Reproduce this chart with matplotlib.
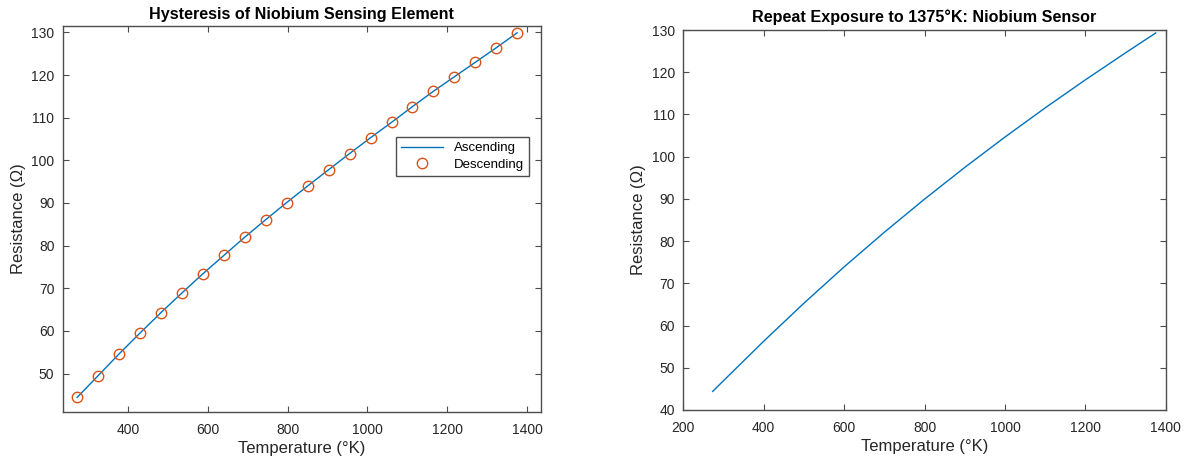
import matplotlib
matplotlib.use("Agg")
import matplotlib.pyplot as plt

# Left: hysteresis data
temp_K = [273, 325.5, 378, 430.5, 483, 535.5, 588, 640.5, 693, 745.5, 798,
          850.5, 903, 955.5, 1008, 1060.5, 1113, 1165.5, 1218, 1270.5, 1323, 1375]
ascending_ohm = [44.4, 49.5, 54.6, 59.5, 64.3, 68.9, 73.4, 77.7, 82.0, 86.1, 90.1,
                 94.0, 97.8, 101.6, 105.3, 108.9, 112.6, 116.2, 119.6, 123.0, 126.4, 129.9]
descending_ohm = [44.4, 49.5, 54.6, 59.5, 64.3, 68.9, 73.4, 77.7, 82.0, 86.1, 90.1,
                  94.0, 97.8, 101.6, 105.3, 108.9, 112.6, 116.2, 119.6, 123.0, 126.4, 129.9]

# Right: repeat exposure curve
repeat_temp_K = [273, 300, 400, 500, 600, 700, 800, 900, 1000, 1100, 1200, 1300, 1375]
repeat_ohm = [44.4, 46.95, 56.3, 65.3, 73.9, 82.1, 89.95, 97.45, 104.65, 111.55, 118.2, 124.6, 129.3]

x_ticks_left = [400, 600, 800, 1000, 1200, 1400]
y_ticks_left = [50, 60, 70, 80, 90, 100, 110, 120, 130]
x_ticks_right = [200, 400, 600, 800, 1000, 1200, 1400]
y_ticks_right = [40, 50, 60, 70, 80, 90, 100, 110, 120, 130]

plt.rcParams['font.family'] = ['Liberation Sans', 'DejaVu Sans']
BLUE = '#0072BD'
ORANGE = '#D95319'
AX = '#4d4d4d'
TXT = '#262626'

fig = plt.figure(figsize=(11.88, 4.63), dpi=100)
ax1 = fig.add_axes([0.0528, 0.1102, 0.4023, 0.8337])
ax2 = fig.add_axes([0.5752, 0.1145, 0.4061, 0.8207])

def style(ax):
    for s in ax.spines.values():
        s.set_color(AX)
        s.set_linewidth(1.0)
    ax.tick_params(direction='in', length=4, width=0.8, colors=AX,
                   labelcolor=TXT, labelsize=10, top=True, right=True)
    ax.tick_params(axis='x', pad=8)
    ax.tick_params(axis='y', pad=6)

ax1.plot(temp_K, ascending_ohm, color=BLUE, lw=1.0, label='Ascending')
ax1.plot(temp_K, descending_ohm, linestyle='none', marker='o', ms=7.5,
         mfc='none', mec=ORANGE, mew=1.0, label='Descending')
ax1.set_xlim(237, 1434)
ax1.set_ylim(41.0, 131.5)
ax1.set_xticks(x_ticks_left)
ax1.set_yticks(y_ticks_left)
style(ax1)
ax1.set_title('Hysteresis of Niobium Sensing Element', fontsize=11.6, fontweight='bold', pad=5)
ax1.set_xlabel('Temperature (°K)', fontsize=12, color=TXT, labelpad=3)
ax1.set_ylabel('Resistance (Ω)', fontsize=12, color=TXT)
leg = ax1.legend(loc='center', bbox_to_anchor=(0.836, 0.662), fontsize=9.5,
                 fancybox=False, framealpha=1, edgecolor=AX, handlelength=3.2,
                 borderpad=0.4, labelspacing=0.3)
leg.get_frame().set_linewidth(1.0)

ax2.plot(repeat_temp_K, repeat_ohm, color=BLUE, lw=1.0)
ax2.set_xlim(200, 1400)
ax2.set_ylim(40, 130)
ax2.set_xticks(x_ticks_right)
ax2.set_yticks(y_ticks_right)
style(ax2)
ax2.set_title('Repeat Exposure to 1375°K: Niobium Sensor', fontsize=11.6, fontweight='bold', pad=6)
ax2.set_xlabel('Temperature (°K)', fontsize=12, color=TXT, labelpad=3)
ax2.set_ylabel('Resistance (Ω)', fontsize=12, color=TXT)

fig.savefig('out.png', dpi=100)
